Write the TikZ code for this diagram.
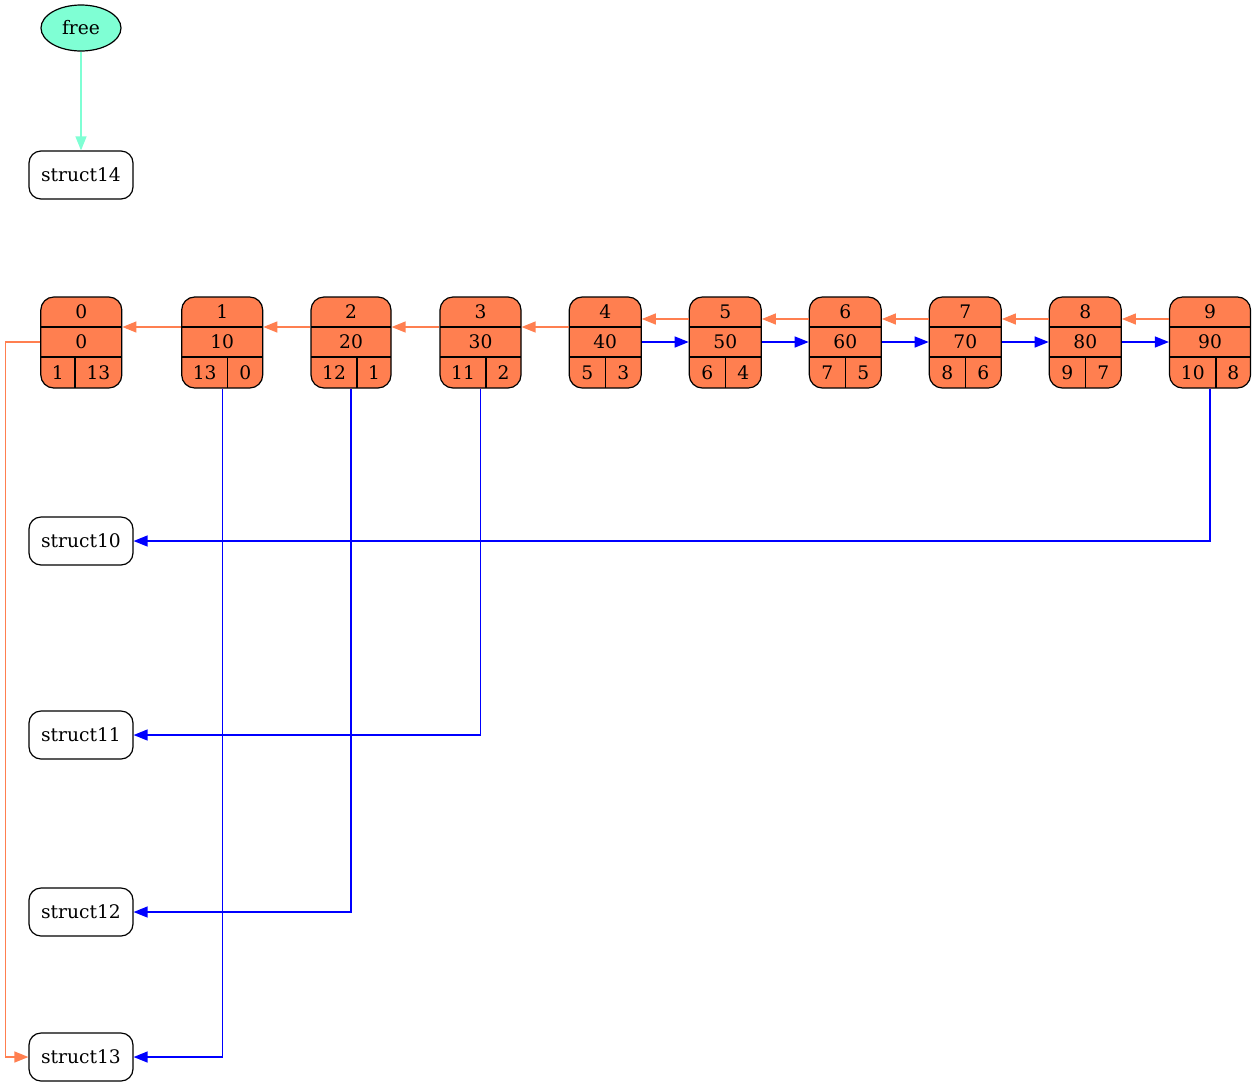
\documentclass[tikz,border=0pt]{standalone}
\usepackage{fontspec}
\setmainfont{DejaVu Serif}
\usepackage{xcolor}
\usepackage{tikz}
\usetikzlibrary{arrows.meta,positioning,shapes.geometric}
\definecolor{coral}{HTML}{FF7F50}
\definecolor{aqua}{HTML}{7FFFD4}

\begin{document}
\begin{tikzpicture}[
  x=0.5pt, y=-0.5pt,
  font=\fontsize{9.33}{11}\selectfont,
  rec/.style={rectangle, rounded corners=6.5pt, draw=black, line width=0.6pt, fill=coral,
              minimum height=45.5pt, inner sep=0pt},
  cell/.style={inner sep=0pt},
  box/.style={rectangle, rounded corners=6pt, draw=black, line width=0.6pt,
              minimum width=52pt, minimum height=24pt, inner sep=2pt},
  head/.style={ellipse, draw=black, line width=0.6pt, fill=aqua,
               minimum width=40pt, minimum height=23pt, inner sep=0pt},
  prv/.style={-{Triangle[length=7pt,width=5.5pt]}, line width=0.65pt, draw=coral},
  nxt/.style={-{Triangle[length=7pt,width=5.5pt]}, line width=0.65pt, draw=blue},
  fre/.style={-{Triangle[length=7pt,width=5.5pt]}, line width=0.65pt, draw=aqua},
]
\useasboundingbox (0,0) rectangle (1256,1087);
% record row
\foreach \i/\cx/\w/\dv/\v/\a/\b in {0/81.3/81/-6.3/0/1/13, 1/222.2/81/5.5/10/13/0,
    2/351/80/6/20/12/1, 3/480.5/81/5.5/30/11/2, 4/605.2/72/0/40/5/3, 5/725.3/72/0/50/6/4,
    6/845.3/72/0/60/7/5, 7/965.3/72/0/70/8/6, 8/1085.3/72/0/80/9/7, 9/1210/81/6/90/10/8}{
  \node[rec, minimum width=\w*0.5pt] (rec\i) at (\cx,342.5) {};
  \draw[line width=0.6pt] ({\cx-\w/2},327) -- ({\cx+\w/2},327);
  \draw[line width=0.6pt] ({\cx-\w/2},357) -- ({\cx+\w/2},357);
  \draw[line width=0.6pt] ({\cx+\dv},357) -- ({\cx+\dv},388);
  \node[cell] (tp\i) at (\cx,312) {\i};
  \node[cell] (vl\i) at (\cx,342) {\v};
  \node[cell] (lo\i) at ({(\cx-\w/2+\cx+\dv)/2},372.5) {\a};
  \node[cell] (hi\i) at ({(\cx+\dv+\cx+\w/2)/2},372.5) {\b};
}
% prev pointers
\foreach \j/\k/\yy in {1/0/327, 2/1/327, 3/2/327, 4/3/327, 5/4/319, 6/5/319, 7/6/319, 8/7/319, 9/8/319}
  \draw[prv] (rec\j.west |- 0,\yy) -- (rec\k.east |- 0,\yy);
% next pointers
\foreach \j/\k in {4/5, 5/6, 6/7, 7/8, 8/9}
  \draw[nxt] (rec\j.east |- vl\j) -- (rec\k.west |- vl\j);
% left column
\node[head] (free) at (81,28) {free};
\node[box] (s14) at (81,175) {struct14};
\node[box] (s10) at (81,541) {struct10};
\node[box] (s11) at (81,735) {struct11};
\node[box] (s12) at (81,912) {struct12};
\node[box] (s13) at (81,1057) {struct13};
\draw[fre] (free) -- (s14);
\draw[nxt] (rec9.south) |- (s10.east);
\draw[nxt] (rec3.south) |- (s11.east);
\draw[nxt] (rec2.south) |- (s12.east);
\draw[nxt] (rec1.south) |- (s13.east);
\draw[prv] (rec0.west |- vl0) -- ++(-34.7,0) |- (s13.west);
\end{tikzpicture}
\end{document}
